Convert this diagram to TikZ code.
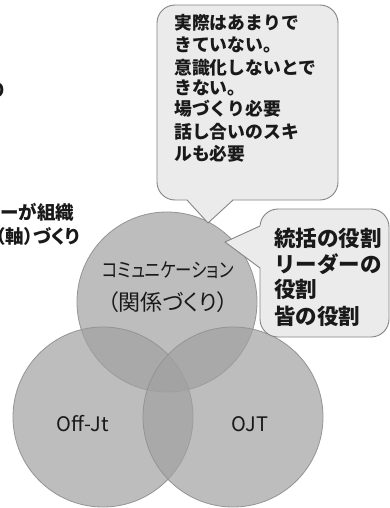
\documentclass[tikz,border=0pt]{standalone}
\usepackage{fontspec}
\newfontfamily\jp[RawFeature=+palt]{Noto Sans CJK JP}
\newfontfamily\jpc{Noto Sans CJK JP}
\newfontfamily\jpn[RawFeature=+palt, FakeStretch=0.82]{Noto Sans CJK JP}
\definecolor{circfill}{gray}{0.63}
\definecolor{circline}{gray}{0.58}
\definecolor{callfill}{gray}{0.92}
\definecolor{callline}{gray}{0.52}
\definecolor{ink}{gray}{0.1}
\tikzset{
  circ/.style={circle, inner sep=0pt, minimum size=180pt, fill=circfill, fill opacity=0.7, draw=circline, line width=0.8pt},
  callbox/.style={fill=callfill, draw=callline, line width=0.9pt, rounded corners=18pt},
  calltxt/.style={text=ink, inner sep=0pt, anchor=base west, font=\jpc\bfseries\fontsize{17.8}{22}\selectfont},
  calltxtb/.style={text=ink, inner sep=0pt, anchor=base west, font=\jpc\bfseries\fontsize{21.5}{25}\selectfont},
  lefttxt/.style={text=ink, inner sep=0pt, anchor=base west, font=\jpc\bfseries\fontsize{18.5}{22}\selectfont},
  lefttxtp/.style={text=ink, inner sep=0pt, anchor=base west, font=\jp\bfseries\fontsize{18.5}{22}\selectfont},
  circtxt/.style={text=ink, inner sep=0pt, anchor=center}
}
\begin{document}
\begin{tikzpicture}[x=1pt,y=-1pt]
\useasboundingbox (0,0) rectangle (390,508);
\clip (0,0) rectangle (390,508);
\fill[white] (0,0) rectangle (390,508);
% left cut texts
\node[lefttxt, anchor=base east] (l1) at (7,98) {り};
\node[lefttxt] (l2) at (0,219) {ーが組織};
\node[lefttxtp] (l3) at (-4,243) {（軸）づくり};
% circles
\node[circ] (comm) at (167,302) {};
\node[circ] (off) at (103,417) {};
\node[circ] (ojt) at (233,417) {};
\node[circtxt, font=\jpn\fontsize{20}{22}\selectfont] (commt) at (168,270) {コミュニケーション};
\node[circtxt, font=\jp\fontsize{22}{26}\selectfont] (commt2) at (168,302) {（関係づくり）};
\node[circtxt, font=\jp\fontsize{20}{24}\selectfont] (offt) at (83,424) {Off-Jt};
\node[circtxt, font=\jp\fontsize{20}{24}\selectfont] (ojtt) at (250,424) {OJT};
% top callout
\draw[callbox] (157,5) rectangle (338,200);
\coordinate (tip1) at (208,223);
\fill[callfill] (186,198) -- (tip1) -- (234,198) -- cycle;
\draw[callline, line width=0.9pt] (187,200) -- (tip1) -- (233,200);
\foreach \i/\yy/\t in {1/30/実際はあまりで, 2/52/きていない。, 3/75/意識化しないとで, 4/95/きない。, 5/115/場づくり必要, 6/139/話し合いのスキ, 7/160/ルも必要}{
  \node[calltxt] (t\i) at (174,\yy) {\t};
}
% right callout
\draw[callbox] (260,209) rectangle (389,337);
\coordinate (tip2) at (225,242);
\fill[callfill] (262,225) -- (tip2) -- (262,269) -- cycle;
\draw[callline, line width=0.9pt] (260,226) -- (tip2) -- (260,268);
\foreach \i/\yy/\t in {1/246/統括の役割, 2/272/リーダーの, 3/297/役割, 4/324/皆の役割}{
  \node[calltxtb] (r\i) at (274,\yy) {\t};
}
\end{tikzpicture}
\end{document}
